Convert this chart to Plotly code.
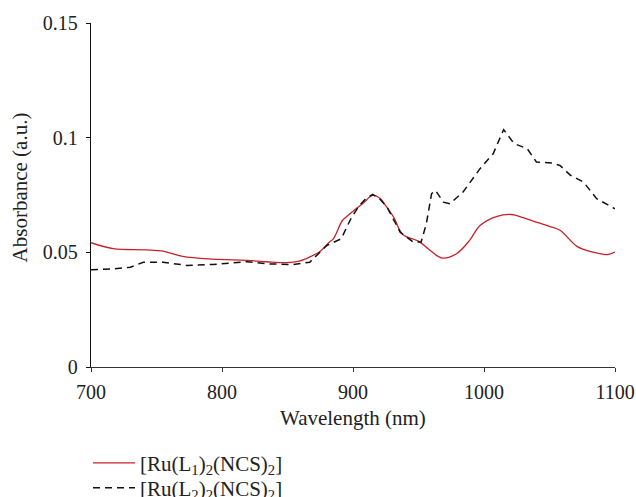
import plotly.graph_objects as go

# Absorption spectra of the two Ru complexes (NIR region)
wl_l1 = [700, 717, 742, 755, 770, 793, 819, 834, 849, 859, 867, 875, 882, 885, 892,
         895, 903, 908, 915, 921, 923, 931, 938, 950, 959, 968, 979, 989, 997,
         1010, 1021, 1030, 1040, 1050, 1058, 1071, 1083, 1094, 1100]
abs_l1 = [0.0542, 0.0516, 0.0511, 0.0505, 0.0482, 0.0470, 0.0465, 0.0459, 0.0455, 0.0462,
          0.0480, 0.0505, 0.0545, 0.0559, 0.0640, 0.0655, 0.0693, 0.0715, 0.0748, 0.0734,
          0.0719, 0.0654, 0.0578, 0.0549, 0.0508, 0.0475, 0.0494, 0.0552, 0.0617,
          0.0657, 0.0665, 0.0651, 0.0632, 0.0613, 0.0596, 0.0526, 0.0501, 0.0490, 0.0501]

wl_l2 = [700, 717, 730, 740, 755, 773, 793, 819, 834, 854, 867, 880, 891, 899, 905,
         910, 915, 920, 926, 936, 946, 952, 956, 960, 963, 969, 974, 984, 997,
         1007, 1015, 1023, 1033, 1040, 1052, 1058, 1066, 1076, 1086, 1100]
abs_l2 = [0.0424, 0.0428, 0.0435, 0.0457, 0.0457, 0.0443, 0.0447, 0.0459, 0.0450, 0.0447,
          0.0457, 0.0530, 0.0559, 0.0654, 0.0705, 0.0735, 0.0753, 0.0735, 0.0697, 0.0588,
          0.0545, 0.0545, 0.0625, 0.0756, 0.0770, 0.0719, 0.0712, 0.0763, 0.0865,
          0.0930, 0.1035, 0.0974, 0.0952, 0.0894, 0.0889, 0.0879, 0.0836, 0.0806, 0.0734, 0.0690]

x_ticks = [700, 800, 900, 1000, 1100]
y_ticks = [0, 0.05, 0.1, 0.15]
y_tick_text = ["0", "0.05", "0.1", "0.15"]

FONT = "Liberation Serif"
TEXT = "#222222"

fig = go.Figure()
fig.add_trace(go.Scatter(
    x=wl_l1, y=abs_l1, mode="lines", line_shape="spline",
    name="[Ru(L<sub>1</sub>)<sub>2</sub>(NCS)<sub>2</sub>]",
    line=dict(color="#c8202a", width=1.3), legend="legend",
))
fig.add_trace(go.Scatter(
    x=wl_l2, y=abs_l2, mode="lines",
    name="[Ru(L<sub>2</sub>)<sub>2</sub>(NCS)<sub>2</sub>]",
    line=dict(color="#111111", width=1.5, dash="7px,5px"), legend="legend2",
))

legend_style = dict(x=-0.0057, xanchor="left", yanchor="middle", itemwidth=42,
                    font=dict(family=FONT, size=21, color=TEXT),
                    bgcolor="rgba(0,0,0,0)")

fig.update_layout(
    width=636, height=497,
    margin=dict(l=91, r=21, t=23, b=130, autoexpand=False),
    paper_bgcolor="white", plot_bgcolor="white",
    font=dict(family=FONT, size=20, color=TEXT),
    showlegend=True,
    legend=dict(y=-0.2795, **legend_style),
    legend2=dict(y=-0.3523, **legend_style),
    xaxis=dict(range=[700, 1100], tickvals=x_ticks, showgrid=False, zeroline=False,
               showline=True, linecolor="#333333", linewidth=1.3, automargin=False,
               ticks="outside", ticklen=4, tickcolor="#333333", ticklabelstandoff=3),
    yaxis=dict(range=[0, 0.15], tickvals=y_ticks, ticktext=y_tick_text,
               showgrid=False, zeroline=False, automargin=False,
               showline=True, linecolor="#111111", linewidth=1.3,
               ticks="outside", ticklen=4, tickcolor="#111111", ticklabelstandoff=4),
    annotations=[
        dict(text="Wavelength (nm)", xref="paper", yref="paper", x=0.5, y=-0.147,
             xanchor="center", yanchor="middle", showarrow=False,
             font=dict(family=FONT, size=21, color=TEXT)),
        dict(text="Absorbance (a.u.)", xref="paper", yref="paper", x=-0.1355, y=0.522,
             xanchor="center", yanchor="middle", textangle=-90, showarrow=False,
             font=dict(family=FONT, size=21, color=TEXT)),
    ],
)

fig.write_html("out.html")
